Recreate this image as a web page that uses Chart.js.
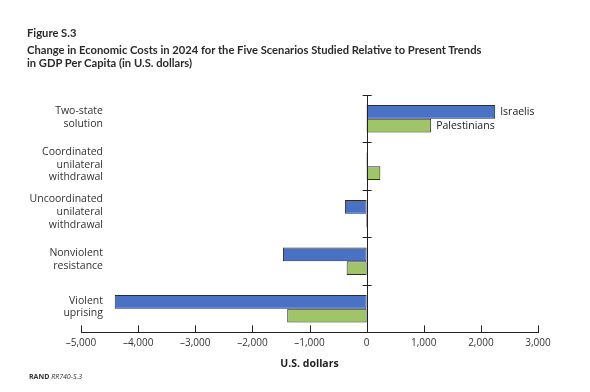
<!DOCTYPE html>
<html>
<head>
<meta charset="utf-8">
<script src="https://cdn.jsdelivr.net/npm/chart.js@4.4.1/dist/chart.umd.min.js"></script>
<style>
  html, body { margin: 0; padding: 0; background: #fff; }
  #wrap { position: relative; width: 590px; height: 392px; overflow: hidden; }
  #chart { position: absolute; left: 0; top: 0; }
  .t { position: absolute; left: 27px; font-family: Lato, sans-serif; font-weight: 700; font-size: 11.2px; line-height: 14px; color: #2b2b2b; white-space: nowrap; }
  .source { position: absolute; left: 29px; top: 372px; font-family: "Open Sans", sans-serif; font-size: 7px; color: #333; }
</style>
</head>
<body>
<div id="wrap">
  <canvas id="chart" width="590" height="392"></canvas>
  <div class="t" style="top:26px">Figure S.3</div>
  <div class="t" style="top:43px">Change in Economic Costs in 2024 for the Five Scenarios Studied Relative to Present Trends</div>
  <div class="t" style="top:55.5px">in GDP Per Capita (in U.S. dollars)</div>
  <div class="source"><b>RAND</b> <i>RR740-S.3</i></div>
</div>
<script>
const categories = [
  ["Two-state", "solution"],
  ["Coordinated", "unilateral", "withdrawal"],
  ["Uncoordinated", "unilateral", "withdrawal"],
  ["Nonviolent", "resistance"],
  ["Violent", "uprising"]
];
const seriesNames = ["Israelis", "Palestinians"];
const israelis = [2250, -8, -380, -1465, -4410];
const palestinians = [1130, 240, -12, -350, -1390];
const xTicks = [-5000, -4000, -3000, -2000, -1000, 0, 1000, 2000, 3000];

const FONT = '"Open Sans", sans-serif';

function fmt(v) {
  const s = Math.abs(v).toLocaleString('en-US');
  return v < 0 ? '\u2013' + s : s;
}

const decor = {
  id: 'decor',
  afterDatasetsDraw(chart) {
    const ctx = chart.ctx;
    const x = chart.scales.x, y = chart.scales.y;
    const area = chart.chartArea;
    const x0 = x.getPixelForValue(0);
    ctx.save();
    ctx.strokeStyle = '#222';
    ctx.lineWidth = 1;
    // zero line
    ctx.beginPath();
    ctx.moveTo(Math.round(x0) + 0.5, area.top);
    ctx.lineTo(Math.round(x0) + 0.5, area.bottom);
    ctx.stroke();
    // category boundary ticks crossing zero line
    for (let i = 0; i < categories.length; i++) {
      const yy = Math.round(y.getPixelForValue(i - 0.5)) + 0.5;
      ctx.beginPath();
      ctx.moveTo(x0 - 4, yy);
      ctx.lineTo(x0 + 5, yy);
      ctx.stroke();
    }
    // upward x ticks
    xTicks.forEach(v => {
      const xx = Math.round(x.getPixelForValue(v)) + 0.5;
      ctx.beginPath();
      ctx.moveTo(xx, area.bottom);
      ctx.lineTo(xx, area.bottom - 7);
      ctx.stroke();
    });
    // category labels
    ctx.fillStyle = '#333';
    ctx.font = '10.5px ' + FONT;
    ctx.textAlign = 'right';
    ctx.textBaseline = 'middle';
    const lh = 12.7;
    categories.forEach((lines, i) => {
      const cy = y.getPixelForValue(i) - 1.5;
      const start = cy - (lines.length - 1) * lh / 2;
      lines.forEach((t, j) => ctx.fillText(t, 103, start + j * lh));
    });
    // series labels beside first category bars
    ctx.textAlign = 'left';
    ctx.fillStyle = '#222';
    chart.data.datasets.forEach((ds, di) => {
      const el = chart.getDatasetMeta(di).data[0];
      ctx.fillText(seriesNames[di], el.x + 5, el.y);
    });
    ctx.restore();
  }
};

new Chart(document.getElementById('chart'), {
  type: 'bar',
  data: {
    labels: categories.map(c => c.join(' ')),
    datasets: [
      { label: seriesNames[0], data: israelis, backgroundColor: '#4A72C4', borderColor: '#2a2a3a', borderWidth: 1, borderSkipped: false },
      { label: seriesNames[1], data: palestinians, backgroundColor: '#A0C46A', borderColor: '#2a2a2a', borderWidth: 1, borderSkipped: false }
    ]
  },
  options: {
    indexAxis: 'y',
    responsive: false,
    animation: false,
    events: [],
    datasets: { bar: { categoryPercentage: 0.58, barPercentage: 1.0 } },
    layout: { padding: { left: 81, right: 52, top: 95, bottom: 22 } },
    plugins: { legend: { display: false }, tooltip: { enabled: false }, title: { display: false } },
    scales: {
      y: { display: false },
      x: {
        type: 'linear', min: -5000, max: 3000,
        afterBuildTicks(scale) { scale.ticks = xTicks.map(v => ({ value: v })); },
        ticks: { font: { family: FONT, size: 10 }, color: '#333', padding: 5, maxRotation: 0, callback: v => fmt(v) },
        grid: { display: false, drawTicks: false },
        border: { display: true, color: '#222', width: 1 },
        title: { display: true, text: 'U.S. dollars', font: { family: FONT, size: 10.5, weight: 'bold' }, color: '#222', padding: { top: 3, bottom: 0 } }
      }
    }
  },
  plugins: [decor]
});
</script>
</body>
</html>
